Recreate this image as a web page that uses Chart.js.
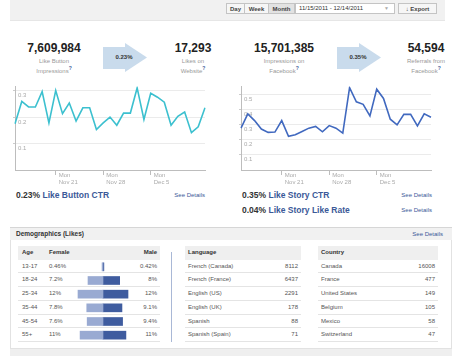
<!DOCTYPE html>
<html><head><meta charset="utf-8">
<script src="https://cdn.jsdelivr.net/npm/chart.js@4"></script>
<style>
html,body{margin:0;padding:0}
body{width:460px;height:356px;overflow:hidden;background:#fff;font-family:"Liberation Sans",Arial,sans-serif;position:relative;color:#333}
.a{position:absolute;white-space:nowrap}
.btn{position:absolute;top:3px;height:11px;line-height:11px;font-size:6px;font-weight:bold;color:#444;text-align:center;background:#f6f6f6;border:1px solid #c4c4c4;box-sizing:border-box}
.big{position:absolute;font-size:12px;font-weight:bold;color:#222;text-align:center;line-height:14px;top:41px}
.lbl{position:absolute;font-size:6px;color:#999;text-align:center;line-height:7px;top:58px}
.q{color:#3b5998;font-weight:bold;font-size:5px;vertical-align:3px}
.ttl{position:absolute;font-size:8.5px;font-weight:bold;color:#3b5998;line-height:10px}
.ttl b{color:#333}
.see{position:absolute;font-size:6px;color:#3b5998;line-height:8px}
.tbl{position:absolute;top:246px}
.th{position:absolute;left:0;right:0;top:0;height:13.5px;background:#efefef;font-size:6px;font-weight:bold;color:#333;line-height:13.5px}
.tr{position:absolute;left:0;right:0;height:13.75px;border-bottom:1px solid #e4e4e4;box-sizing:border-box;font-size:6px;color:#555;line-height:13.75px}
.c{position:absolute;top:0}
.r{position:absolute;top:0;text-align:right}
</style></head><body>

<!-- toolbar -->
<div class="a" style="left:10px;top:0;width:435px;height:20px;background:#f1f1f1;border-bottom:1px solid #e6e6e6"></div>
<div class="btn" style="left:226px;width:19px">Day</div>
<div class="btn" style="left:244px;width:25px">Week</div>
<div class="btn" style="left:268px;width:27px;background:#e2e2e2">Month</div>
<div class="a" style="left:295px;top:3px;width:100px;height:11px;box-sizing:border-box;border:1px solid #c4c4c4;background:#fff;font-size:6px;line-height:9px;color:#333;padding-left:3px">11/15/2011 - 12/14/2011<span style="position:absolute;right:5px;color:#aaa;font-size:5px">&#9660;</span></div>
<div class="btn" style="left:398px;width:39px">&#8595; Export</div>

<!-- stats -->
<svg class="a" style="left:0;top:0" width="460" height="90">
<polygon points="103,47 125,47 125,43 147,57.5 125,72 125,69 103,69" fill="#c9dbec"/>
<polygon points="337,47 359,47 359,43 381,57.5 359,72 359,69 337,69" fill="#c9dbec"/>
</svg>
<div class="big" style="left:14px;width:80px">7,609,984</div>
<div class="lbl" style="left:14px;width:80px">Like Button<br>Impressions<span class="q">?</span></div>
<div class="a" style="left:104px;width:40px;top:54px;font-size:6px;font-weight:bold;text-align:center;line-height:7px">0.23%</div>
<div class="big" style="left:153px;width:80px">17,293</div>
<div class="lbl" style="left:153px;width:80px">Likes on<br>Website<span class="q">?</span></div>

<div class="big" style="left:234px;width:100px">15,701,385</div>
<div class="lbl" style="left:234px;width:100px">Impressions on<br>Facebook<span class="q">?</span></div>
<div class="a" style="left:338px;width:40px;top:54px;font-size:6px;font-weight:bold;text-align:center;line-height:7px">0.35%</div>
<div class="big" style="left:386px;width:80px">54,594</div>
<div class="lbl" style="left:386px;width:80px">Referrals from<br>Facebook<span class="q">?</span></div>

<!-- line charts -->
<canvas id="c1" class="a" style="left:0;top:80px" width="215" height="110"></canvas>
<canvas id="c2" class="a" style="left:230px;top:80px" width="215" height="110"></canvas>

<div class="ttl" style="left:16px;top:190px"><b>0.23%</b> Like Button CTR</div>
<div class="see" style="left:150px;width:55px;text-align:right;top:191px">See Details</div>
<div class="ttl" style="left:242px;top:190px"><b>0.35%</b> Like Story CTR</div>
<div class="see" style="left:377px;width:55px;text-align:right;top:191px">See Details</div>
<div class="ttl" style="left:242px;top:205px"><b>0.04%</b> Like Story Like Rate</div>
<div class="see" style="left:377px;width:55px;text-align:right;top:206px">See Details</div>

<!-- demographics panel -->
<div class="a" style="left:10px;top:227px;width:442px;height:122px;border:1px solid #e2e2e2;border-top-color:#d6d6d6;box-sizing:border-box"></div>
<div class="a" style="left:10px;top:227px;width:442px;height:12px;background:#f1f1f1;border-top:1px solid #d6d6d6"></div>
<div class="a" style="left:16px;top:229px;font-size:6.5px;font-weight:bold;color:#333;line-height:9px">Demographics (Likes)</div>
<div class="see" style="left:388px;width:55px;text-align:right;top:230px">See Details</div>
<div class="a" style="left:10px;top:349px;width:442px;height:7px;background:#efefef"></div>
<div class="a" style="left:171px;top:252px;width:1px;height:90px;background:#a9b8d6"></div>

<div id="ageT" class="tbl" style="left:18px;width:142px"></div>
<div id="langT" class="tbl" style="left:185px;width:116px"></div>
<div id="ctryT" class="tbl" style="left:318px;width:120px"></div>
<canvas id="c3" class="a" style="left:58px;top:260px" width="90" height="82"></canvas>

<script>
// ---- data ----
const dates = ['Nov 15','Nov 16','Nov 17','Nov 18','Nov 19','Nov 20','Nov 21','Nov 22','Nov 23','Nov 24','Nov 25','Nov 26','Nov 27','Nov 28','Nov 29','Nov 30','Dec 1','Dec 2','Dec 3','Dec 4','Dec 5','Dec 6','Dec 7','Dec 8','Dec 9','Dec 10','Dec 11','Dec 12','Dec 13'];
const tickDays = ['Nov 21','Nov 28','Dec 5'];
const likeButtonCtr = [0.175,0.259,0.238,0.238,0.296,0.178,0.300,0.213,0.253,0.185,0.235,0.235,0.153,0.178,0.200,0.169,0.215,0.215,0.310,0.191,0.290,0.275,0.256,0.169,0.203,0.219,0.141,0.163,0.235];
const likeStoryCtr = [0.276,0.370,0.326,0.270,0.248,0.250,0.326,0.222,0.233,0.254,0.276,0.287,0.252,0.293,0.276,0.243,0.543,0.450,0.433,0.357,0.533,0.472,0.335,0.298,0.367,0.367,0.291,0.370,0.348];
const ageGroups = ['13-17','18-24','25-34','35-44','45-54','55+'];
const femalePct = [0.46,7.2,12,7.8,7.6,11];
const malePct = [0.42,8,12,9.1,9.4,11];
const languages = ['French (Canada)','French (France)','English (US)','English (UK)','Spanish','Spanish (Spain)'];
const languageLikes = [8112,6437,2291,178,88,71];
const countries = ['Canada','France','United States','Belgium','Mexico','Switzerland'];
const countryLikes = [16008,477,149,105,58,47];

// ---- tables ----
function rowsHtml(cells){
  let h='';
  cells.forEach((c,i)=>{h+='<div class="tr" style="top:'+(13.5+i*13.75)+'px">'+c+'</div>';});
  return h;
}
document.getElementById('ageT').innerHTML =
  '<div class="th"><span class="c" style="left:4px">Age</span><span class="c" style="left:31px">Female</span><span class="r" style="right:3px">Male</span></div>' +
  rowsHtml(ageGroups.map((g,i)=>'<span class="c" style="left:4px">'+g+'</span><span class="c" style="left:31px">'+femalePct[i]+'%</span><span class="r" style="right:3px">'+malePct[i]+'%</span>'));
document.getElementById('langT').innerHTML =
  '<div class="th"><span class="c" style="left:3px">Language</span></div>' +
  rowsHtml(languages.map((g,i)=>'<span class="c" style="left:3px">'+g+'</span><span class="r" style="right:3px">'+languageLikes[i]+'</span>'));
document.getElementById('ctryT').innerHTML =
  '<div class="th"><span class="c" style="left:3px">Country</span></div>' +
  rowsHtml(countries.map((g,i)=>'<span class="c" style="left:3px">'+g+'</span><span class="r" style="right:3px">'+countryLikes[i]+'</span>'));

// ---- line charts ----
function lineChart(id, values, color, maxY, pad){
  return new Chart(document.getElementById(id), {
    type:'line',
    data:{labels:dates, datasets:[{data:values, borderColor:color, borderWidth:1.6, pointRadius:0, tension:0, fill:false}]},
    options:{
      responsive:false, animation:false,
      layout:{padding:pad},
      plugins:{legend:{display:false}, tooltip:{enabled:false}},
      scales:{
        x:{
          grid:{drawOnChartArea:false, drawTicks:true, tickLength:5, tickColor:'#bdbdbd'},
          border:{display:true, color:'#bdbdbd'},
          afterBuildTicks:(ax)=>{ax.ticks = ax.ticks.filter(t=>tickDays.includes(dates[t.value]));},
          afterFit:(s)=>{s.height=20;},
          ticks:{autoSkip:false, maxRotation:0, align:'start', labelOffset:3, padding:-3,
            color:'#aaa', font:{family:'Liberation Sans, Arial', size:6}, 
            callback:(v)=>['Mon', dates[v]]}
        },
        y:{
          min:0, max:maxY,
          grid:{color:'#ebebeb', drawTicks:true, tickLength:2, tickColor:'#ccc'},
          border:{display:true, color:'#bdbdbd'},
          afterFit:(s)=>{s.width=0;},
          ticks:{stepSize:0.1, includeBounds:false, mirror:true, padding:3, labelOffset:5,
            color:'#aaa', font:{family:'Liberation Sans, Arial', size:6},
            callback:(v)=> v===0 ? null : (Math.round(v*10)/10).toString()}
        }
      }
    }
  });
}
lineChart('c1', likeButtonCtr, '#3cc0cf', 0.315, {left:15,right:10,top:6,bottom:0});
lineChart('c2', likeStoryCtr, '#4169bf', 0.55, {left:11,right:14,top:6,bottom:0});

// ---- demographics bars ----
new Chart(document.getElementById('c3'), {
  type:'bar',
  data:{labels:ageGroups, datasets:[
    {data:femalePct.map(v=>-v), backgroundColor:'#99aad2', barThickness:8, stack:'s'},
    {data:malePct, backgroundColor:'#3f5c9f', barThickness:8, stack:'s'}
  ]},
  options:{
    indexAxis:'y', responsive:false, animation:false,
    layout:{padding:0},
    plugins:{legend:{display:false}, tooltip:{enabled:false}},
    scales:{
      x:{display:false, stacked:true, min:-21.6, max:21.6},
      y:{display:false, stacked:true}
    }
  }
});
</script>
</body></html>
